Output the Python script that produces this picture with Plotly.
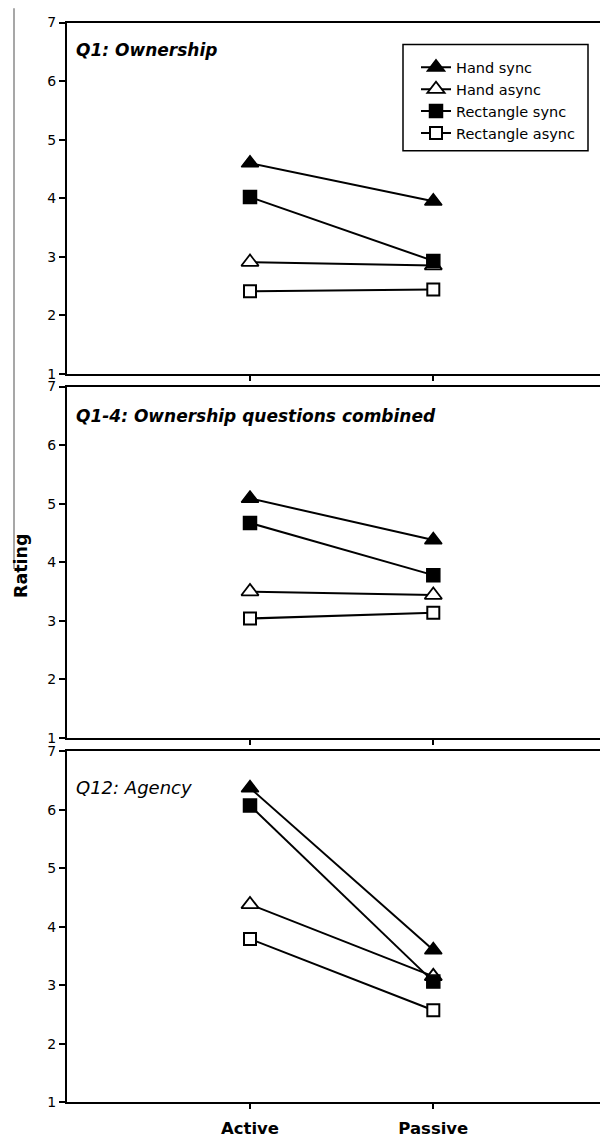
import plotly.graph_objects as go

# ---------------- data ----------------
conditions = ["Active", "Passive"]
series_names = ["Hand sync", "Hand async", "Rectangle sync", "Rectangle async"]
panel_titles = ["Q1: Ownership", "Q1-4: Ownership questions combined", "Q12: Agency"]
y_tick_values = [1, 2, 3, 4, 5, 6, 7]

# Panel 1: Q1 Ownership
q1_hand_sync = [4.60, 3.95]
q1_hand_async = [2.91, 2.85]
q1_rect_sync = [4.02, 2.93]
q1_rect_async = [2.41, 2.44]

# Panel 2: Q1-4 combined
q14_hand_sync = [5.09, 4.38]
q14_hand_async = [3.50, 3.44]
q14_rect_sync = [4.67, 3.78]
q14_rect_async = [3.04, 3.14]

# Panel 3: Q12 Agency
q12_hand_sync = [6.37, 3.60]
q12_hand_async = [4.38, 3.15]
q12_rect_sync = [6.07, 3.06]
q12_rect_async = [3.79, 2.57]

panels = [
    [q1_hand_sync, q1_hand_async, q1_rect_sync, q1_rect_async],
    [q14_hand_sync, q14_hand_async, q14_rect_sync, q14_rect_async],
    [q12_hand_sync, q12_hand_async, q12_rect_sync, q12_rect_async],
]

# ---------------- styling ----------------
OFF = 8  # page body margin
WIN_W, WIN_H = 608, 1146
W, H = WIN_W - 2 * OFF, WIN_H - 2 * OFF
FONT = "DejaVu Sans"


def xp(px):
    return (px - OFF) / W


def yp(py):
    return 1 - (py - OFF) / H


styles = [
    dict(symbol="triangle-up", size=15, color="black", line=dict(color="black", width=1.5)),
    dict(symbol="triangle-up", size=15, color="white", line=dict(color="black", width=1.8)),
    dict(symbol="square", size=13, color="black", line=dict(color="black", width=1.5)),
    dict(symbol="square", size=12, color="white", line=dict(color="black", width=2)),
]

# window-pixel geometry of the panels (top, bottom)
panel_px = [(14.7, 371.7), (384.5, 741.7), (755.0, 1111.7)]
x_left_px = 67.0
x_active_px, x_passive_px = 250.0, 433.3
unit = x_passive_px - x_active_px
x_range = [(x_left_px - x_active_px) / unit, ((WIN_W - OFF) - x_active_px) / unit]

fig = go.Figure()

for p, series in enumerate(panels):
    xa = "x" if p == 0 else f"x{p+1}"
    ya = "y" if p == 0 else f"y{p+1}"
    for s, vals in enumerate(series):
        fig.add_trace(go.Scatter(
            x=conditions, y=vals, mode="lines+markers",
            name=series_names[s],
            legendgroup=series_names[s],
            showlegend=(p == 0),
            line=dict(color="black", width=2),
            marker=styles[s],
            xaxis=xa, yaxis=ya,
            hoverinfo="skip",
        ))

layout = dict(
    width=W, height=H,
    margin=dict(l=0, r=0, t=0, b=0),
    paper_bgcolor="white", plot_bgcolor="white",
    font=dict(family=FONT, color="black"),
    legend=dict(
        x=xp(416), y=yp(44), xanchor="left", yanchor="top",
        borderwidth=0, bgcolor="rgba(0,0,0,0)",
        font=dict(family=FONT, size=14.5, color="black"),
        tracegroupgap=0,
    ),
    showlegend=True,
)

for p, (top, bot) in enumerate(panel_px):
    xk = "xaxis" if p == 0 else f"xaxis{p+1}"
    yk = "yaxis" if p == 0 else f"yaxis{p+1}"
    ya = "y" if p == 0 else f"y{p+1}"
    xa = "x" if p == 0 else f"x{p+1}"
    layout[xk] = dict(
        domain=[xp(x_left_px), 1.0], anchor=ya,
        type="category", categoryorder="array", categoryarray=conditions,
        range=x_range,
        showline=True, linecolor="black", linewidth=2, mirror=True,
        ticks="outside", ticklen=5, tickwidth=2, tickcolor="black",
        showgrid=False, zeroline=False,
        showticklabels=(p == 2), ticklabelstandoff=5,
        tickfont=dict(family=FONT, size=16.5, color="black", weight="bold"),
    )
    layout[yk] = dict(
        domain=[yp(bot), yp(top)], anchor=xa,
        range=[1, 7], tickvals=y_tick_values,
        showline=True, linecolor="black", linewidth=2,
        ticks="outside", ticklen=6, tickwidth=2, tickcolor="black",
        showgrid=False, zeroline=False,
        tickfont=dict(family=FONT, size=14, color="black"),
    )

fig.update_layout(**layout)

# legend frame
fig.add_shape(
    type="rect", xref="paper", yref="paper",
    x0=xp(403), x1=xp(588), y0=yp(37), y1=yp(145),
    line=dict(color="black", width=1.5), fillcolor="rgba(0,0,0,0)", layer="above",
)

# panel titles
title_y_px = [43, 414, 792]
title_fonts = [
    dict(family=FONT, size=17, color="black", weight="bold", style="italic"),
    dict(family=FONT, size=17, color="black", weight="bold", style="italic"),
    dict(family=FONT, size=18, color="black", style="italic"),
]
for p, t in enumerate(panel_titles):
    fig.add_annotation(
        x=xp(74), y=yp(title_y_px[p]), xref="paper", yref="paper",
        xanchor="left", yanchor="middle", text=t, showarrow=False,
        font=title_fonts[p],
    )

# y-axis title
fig.add_annotation(
    x=xp(21), y=yp(567), xref="paper", yref="paper",
    xanchor="center", yanchor="middle", text="Rating", textangle=-90,
    showarrow=False, font=dict(family=FONT, size=17.5, color="black", weight="bold"),
)

# thin gray vertical rule at left
fig.add_shape(
    type="line", xref="paper", yref="paper",
    x0=xp(14), x1=xp(14), y0=yp(0), y1=yp(570),
    line=dict(color="#8a8a8a", width=1.5),
)

fig.write_html("out.html")
